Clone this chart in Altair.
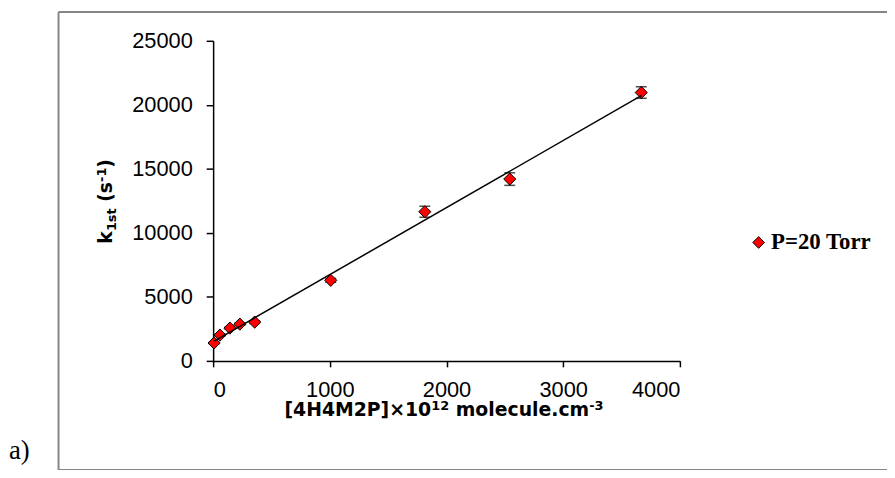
import altair as alt
import pandas as pd

# data
conc = [8, 59, 144, 229, 356, 1008, 1814, 2542, 3669]
k1st = [1400, 2020, 2560, 2870, 3030, 6290, 11650, 14200, 20960]
err = [60, 70, 80, 90, 100, 150, 430, 490, 450]
series = ["P=20 Torr"] * len(conc)

x_ticks = [0, 1000, 2000, 3000, 4000]
y_ticks = [0, 5000, 10000, 15000, 20000, 25000]

# axis titles as (text, is_small, shift) pieces: shift +1 = superscript, -1 = subscript
x_title = [("[4H4M2P]×10", False, 0), ("12", True, 1), (" molecule.cm", False, 0), ("-3", True, 1)]
y_title = [("k", False, 0), ("1st", True, -1), (" (s", False, 0), ("-1", True, 1), (")", False, 0)]

df = pd.DataFrame({"x": conc, "y": k1st, "err": err, "s": series})
df["lo"] = df["y"] - df["err"]
df["hi"] = df["y"] + df["err"]

W, H = 471, 323
X0, Y0 = 215, 39  # page position of plot origin

# approximate advance widths (em) of DejaVu Sans Bold, used to lay out title pieces
ADV = {"[": .457, "]": .457, "H": .837, "M": .995, "P": .733, "×": .838, "m": 1.042,
       "o": .687, "l": .343, "e": .678, "c": .593, "u": .712, ".": .380, "-": .415,
       "k": .665, "s": .595, "t": .478, "(": .457, ")": .457, " ": .348}
for d in "0123456789":
    ADV[d] = .696
BIG, SMALL = 19, 13
TFONT = "DejaVu Sans"


def piece_w(t, small):
    return sum(ADV.get(ch, .6) for ch in t) * (SMALL if small else BIG)


xs = alt.Scale(domain=[0, 4000], nice=False)
ys = alt.Scale(domain=[0, 25000], nice=False)

x_axis = alt.Axis(values=x_ticks, title=None, format="d", grid=False, tickSize=6, labelPadding=13)
y_axis = alt.Axis(values=y_ticks, title=None, format="d", grid=False, tickSize=7, labelPadding=14)

base = alt.Chart(df)

bars = base.mark_rule(color="black", strokeWidth=1.3).encode(
    x=alt.X("x:Q", scale=xs, axis=x_axis),
    y=alt.Y("lo:Q", scale=ys, axis=y_axis),
    y2="hi:Q",
)
caps_lo = base.mark_tick(color="black", orient="horizontal", size=11, thickness=1.5).encode(
    x=alt.X("x:Q", scale=xs), y=alt.Y("lo:Q", scale=ys))
caps_hi = base.mark_tick(color="black", orient="horizontal", size=11, thickness=1.5).encode(
    x=alt.X("x:Q", scale=xs), y=alt.Y("hi:Q", scale=ys))

points = base.mark_point(filled=True, size=150, stroke="black", strokeWidth=1, opacity=1).encode(
    x=alt.X("x:Q", scale=xs),
    y=alt.Y("y:Q", scale=ys),
    color=alt.Color("s:N", scale=alt.Scale(range=["#ff0000"]),
                    legend=alt.Legend(title=None, orient="none", legendX=539, legendY=192,
                                      labelFont="Liberation Serif", labelFontWeight="bold",
                                      labelFontSize=23, labelColor="black", symbolSize=140,
                                      symbolStrokeColor="black", symbolStrokeWidth=1,
                                      labelOffset=1)),
    shape=alt.Shape("s:N", scale=alt.Scale(range=["diamond"]), legend=None),
)

trend = base.transform_regression("x", "y").mark_line(color="black", strokeWidth=1.5).encode(
    x=alt.X("x:Q", scale=xs), y=alt.Y("y:Q", scale=ys))

one = alt.Chart(pd.DataFrame({"a": [0]}))


def shift_of(sh):
    return 6 if sh > 0 else (-4 if sh < 0 else 0)


# title pieces
title_layers = []
total = sum(piece_w(t, s) for t, s, _ in x_title)
cx = 448 - total / 2
base_y = 418
for t, s, sh in x_title:
    lead = len(t) - len(t.lstrip(" "))
    cx += piece_w(t[:lead], s)
    tt = t.lstrip(" ")
    title_layers.append(one.mark_text(font=TFONT, fontWeight="bold", fontSize=SMALL if s else BIG,
                                      color="black", align="left", baseline="alphabetic").encode(
        x=alt.value(cx - X0), y=alt.value(base_y - shift_of(sh) - Y0), text=alt.value(tt)))
    cx += piece_w(tt, s)

total = sum(piece_w(t, s) for t, s, _ in y_title)
cy = 201 + total / 2
base_x = 113
for t, s, sh in y_title:
    lead = len(t) - len(t.lstrip(" "))
    cy -= piece_w(t[:lead], s)
    tt = t.lstrip(" ")
    title_layers.append(one.mark_text(font=TFONT, fontWeight="bold", fontSize=SMALL if s else BIG,
                                      color="black", align="left", baseline="alphabetic",
                                      angle=270).encode(
        x=alt.value(base_x - shift_of(sh) - X0), y=alt.value(cy - Y0), text=alt.value(tt)))
    cy -= piece_w(tt, s)

border_col = "#868686"
L, T, B, R = 59 - X0, 10 - Y0, 472 - Y0, 895 - X0
left = one.mark_rule(color=border_col, strokeWidth=2).encode(
    x=alt.value(L), y=alt.value(T), y2=alt.value(B))
top = one.mark_rule(color=border_col, strokeWidth=2).encode(
    x=alt.value(L), x2=alt.value(R), y=alt.value(T))
bottom = one.mark_rule(color=border_col, strokeWidth=2).encode(
    x=alt.value(L), x2=alt.value(R), y=alt.value(B))
label_a = one.mark_text(font="Liberation Serif", fontSize=27, color="black",
                        align="left", baseline="alphabetic").encode(
    x=alt.value(9 - X0), y=alt.value(461 - Y0), text=alt.value("a)"))

chart = alt.layer(left, top, bottom, label_a, *title_layers, bars, caps_lo, caps_hi, points, trend).properties(
    width=W, height=H,
    background="white",
    autosize=alt.AutoSizeParams(type="none"),
    padding={"left": X0 - 8, "top": Y0 - 8, "right": 887 - (X0 - 8) - W, "bottom": 462 - (Y0 - 8) - H},
).configure_view(stroke=None, clip=False).configure_axis(
    domainColor="black", domainWidth=1.5, tickColor="black", tickWidth=1.5,
    labelFont="Liberation Sans", labelFontSize=22, labelColor="black",
)

chart.save("out.html", embed_options={"renderer": "svg", "actions": False})
